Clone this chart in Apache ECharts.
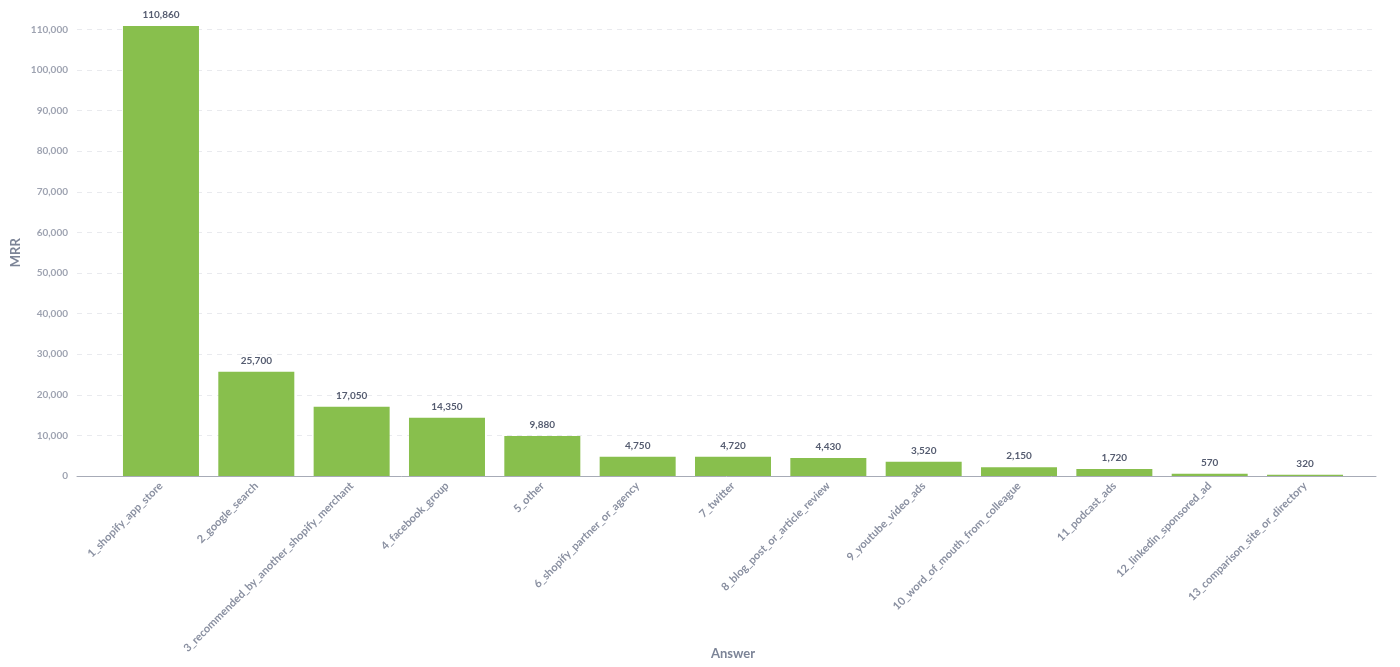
<!DOCTYPE html>
<html>
<head>
<meta charset="utf-8">
<script src="https://cdn.jsdelivr.net/npm/echarts@6/dist/echarts.min.js"></script>
<style>
  html, body { margin: 0; padding: 0; background: #fff; }
  #chart { width: 1400px; height: 667px; }
</style>
</head>
<body>
<div id="chart"></div>
<script>
// answers (x axis) and MRR per answer
var answers = [
  '1_shopify_app_store',
  '2_google_search',
  '3_recommended_by_another_shopify_merchant',
  '4_facebook_group',
  '5_other',
  '6_shopify_partner_or_agency',
  '7_twitter',
  '8_blog_post_or_article_review',
  '9_youtube_video_ads',
  '10_word_of_mouth_from_colleague',
  '11_podcast_ads',
  '12_linkedin_sponsored_ad',
  '13_comparison_site_or_directory'
];
var mrr = [110860, 25700, 17050, 14350, 9880, 4750, 4720, 4430, 3520, 2150, 1720, 570, 320];

// y scale
var yMin = 0;
var yMax = 110000;
var yStep = 10000;
var barMax = 111000; // bar grid reaches a bit higher than the top gridline

var axisGrey = '#A7ABB7';
var labelGrey = '#9EA3B1';
var titleGrey = '#7C8497';

function fmt(v) {
  return Math.round(v).toLocaleString('en-US');
}

var chart = echarts.init(document.getElementById('chart'), null, { renderer: 'canvas' });

var option = {
  animation: false,
  textStyle: { fontFamily: 'Lato, "Open Sans", sans-serif' },
  grid: [
    // grid with y axis, gridlines and the full-width axis line
    { left: 77, right: 24, top: 29.5, bottom: 191, outerBoundsMode: 'none', containLabel: false },
    // grid holding the bars
    { left: 113.3, right: 47.3, top: 25.4, bottom: 191, outerBoundsMode: 'none', containLabel: false }
  ],
  xAxis: [
    {
      gridIndex: 0,
      type: 'value',
      min: 0,
      max: 1,
      axisLine: { show: true, lineStyle: { color: axisGrey, width: 1 } },
      axisTick: { show: false },
      axisLabel: { show: false },
      splitLine: { show: false }
    },
    {
      gridIndex: 1,
      type: 'category',
      data: answers,
      name: 'Answer',
      nameLocation: 'middle',
      nameGap: 171,
      nameMoveOverlap: false,
      nameTextStyle: { color: titleGrey, fontSize: 13, fontWeight: 'bold' },
      axisLine: { show: false },
      axisTick: { show: false },
      axisLabel: {
        rotate: 45,
        interval: 0,
        margin: 8,
        color: '#8A90A1',
        fontSize: 11,
        fontWeight: 'bold'
      }
    }
  ],
  yAxis: [
    {
      gridIndex: 0,
      type: 'value',
      min: yMin,
      max: yMax,
      interval: yStep,
      name: 'MRR',
      nameLocation: 'middle',
      nameGap: 55,
      nameMoveOverlap: false,
      nameTextStyle: { color: titleGrey, fontSize: 13, fontWeight: 'bold' },
      axisLine: { show: false },
      axisTick: { show: false },
      axisLabel: {
        margin: 9,
        color: labelGrey,
        fontSize: 10,
        fontWeight: 'bold',
        formatter: fmt
      },
      splitLine: { lineStyle: { color: '#E9EAEE', type: [5, 5], width: 1 } }
    },
    {
      gridIndex: 1,
      type: 'value',
      min: yMin,
      max: barMax,
      show: false,
      splitLine: { show: false }
    }
  ],
  series: [{
    name: 'MRR',
    type: 'bar',
    xAxisIndex: 1,
    yAxisIndex: 1,
    data: mrr,
    barWidth: 76,
    itemStyle: { color: '#88BF4D' },
    label: {
      show: true,
      position: 'top',
      distance: 6,
      color: '#555C70',
      fontSize: 10,
      fontWeight: 'bold',
      formatter: function (p) { return fmt(p.value); }
    }
  }]
};

chart.setOption(option);
</script>
</body>
</html>
